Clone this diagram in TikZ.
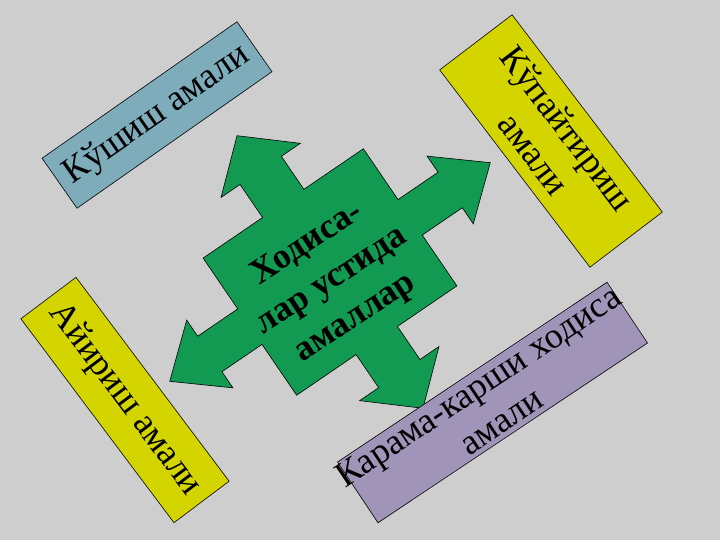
\documentclass[tikz,border=0pt]{standalone}
\usepackage{fontspec}
\setmainfont{Liberation Serif}
\definecolor{fon}{RGB}{206,206,206}
\definecolor{kok}{RGB}{126,172,186}
\definecolor{sariq}{RGB}{212,212,0}
\definecolor{binafsha}{RGB}{160,148,184}
\definecolor{yashil}{RGB}{18,154,82}

\begin{document}
\begin{tikzpicture}[
x = 1pt, y = 1pt,
amal/.style = {
	draw,
	line width = 0.6pt,
	inner sep = 0pt
},
matn/.style = {
	font = \fontsize{36}{42}\selectfont,
	align = center,
	inner sep = 0pt
},
markazmatn/.style = {
	font = \fontsize{35.5}{44}\selectfont\bfseries,
	align = center,
	inner sep = 0pt
}
]

\fill[fon] (0,0) rectangle (720,540);

% markazdagi to'rt tomonlama strelka
\begin{scope}[shift={(330,268)}, rotate=34.3]
\filldraw[fill=yashil, line width=0.6pt]
	(0,165) -- (48,123) -- (25,123) -- (25,83) -- (97,83) -- (97,21.5)
	-- (145.5,21.5) -- (145.5,41) -- (194,0) -- (145.5,-41) -- (145.5,-21.5)
	-- (97,-21.5) -- (97,-83) -- (25,-83) -- (25,-123) -- (48,-123)
	-- (0,-165) -- (-48,-123) -- (-25,-123) -- (-25,-83) -- (-97,-83)
	-- (-97,-21.5) -- (-145.5,-21.5) -- (-145.5,-41) -- (-194,0)
	-- (-145.5,41) -- (-145.5,21.5) -- (-97,21.5) -- (-97,83) -- (-25,83)
	-- (-25,123) -- (-48,123) -- cycle;
\end{scope}
\node[markazmatn, rotate=33] (markaz) at (331.5,258.7) {Ходиса-\\лар устида\\амаллар};

% to'rtta amal
\node[amal, fill=kok, minimum width=238pt, minimum height=61pt, rotate=35] 		(qoshish) 	at (157,425) {};
\node[amal, fill=sariq, minimum width=248pt, minimum height=91pt, rotate=-52.7] 	(kopaytir) 	at (551,399) {};
\node[amal, fill=sariq, minimum width=255pt, minimum height=69pt, rotate=-53.1] 	(ayirish) 	at (125,140) {};
\node[amal, fill=binafsha, minimum width=324pt, minimum height=73pt, rotate=33.7] 	(qarama) 	at (492.5,137.5) {};

\node[matn, rotate=35] 		at (qoshish) 	{Кўшиш амали};
\node[matn, rotate=-52.7] 	at (kopaytir) 	{Кўпайтириш\\амали};
\node[matn, rotate=-53.1] 	at (ayirish) 	{Айириш амали};
\node[matn, rotate=33.7] 	at ([shift={(-3,-1)}]qarama.center) 	{Карама-карши ходиса\\амали};
\end{tikzpicture}
\end{document}
